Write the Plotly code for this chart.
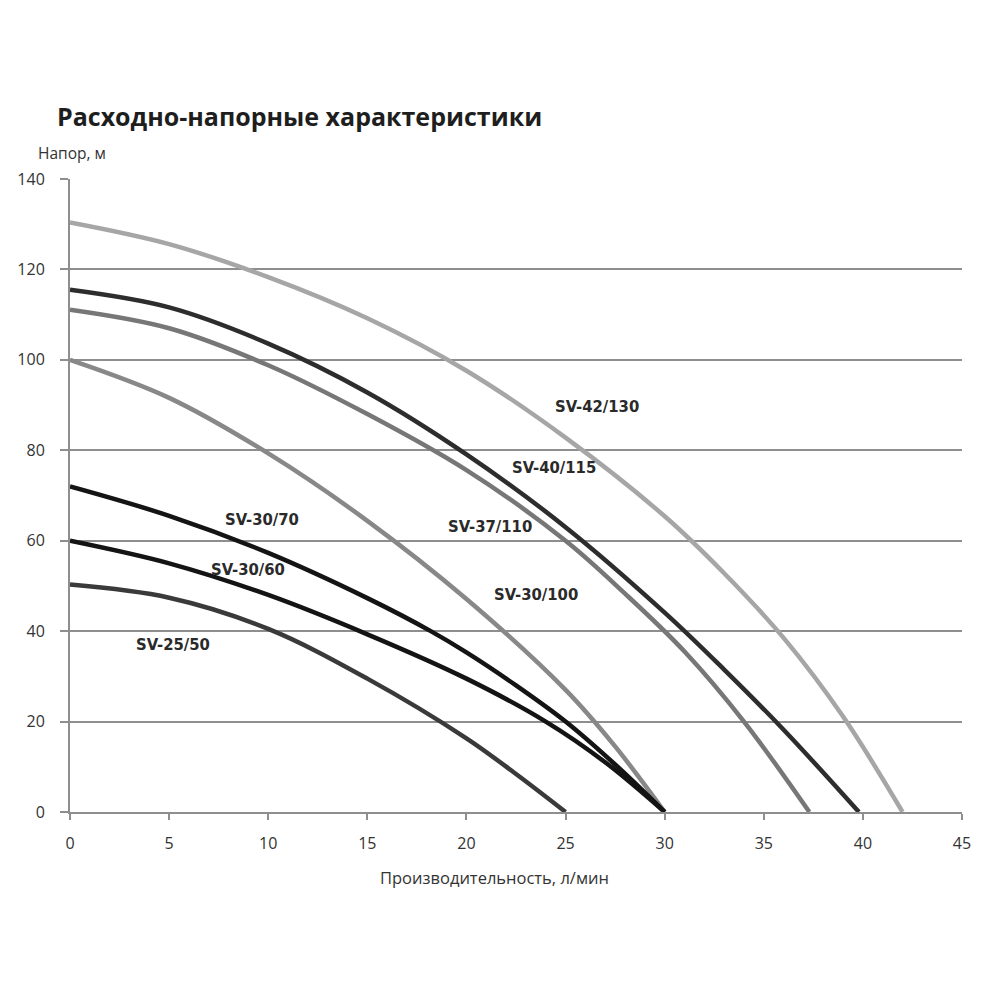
import plotly.graph_objects as go

# ---- data ----
series_names = ["SV-42/130", "SV-40/115", "SV-37/110", "SV-30/100", "SV-30/70", "SV-30/60", "SV-25/50"]

q_42_130 = [0, 5, 10, 15, 20, 25, 30, 33, 36, 39, 42]
h_42_130 = [130.4, 125.6, 118.3, 109.2, 97.6, 82.8, 65.4, 52.8, 38.5, 21.1, 0]

q_40_115 = [0, 5, 10, 15, 20, 25, 30, 33, 36, 39.8]
h_40_115 = [115.5, 111.6, 103.6, 92.8, 79.1, 63.0, 44.1, 31.5, 18.2, 0]

q_37_110 = [0, 5, 10, 15, 20, 25, 28, 31, 34, 37.3]
h_37_110 = [111.1, 107.0, 98.8, 88.0, 75.6, 60.0, 48.3, 35.5, 20, 0]

q_30_100 = [0, 5, 10, 15, 20, 25, 27.5, 30]
h_30_100 = [100, 91.6, 79.3, 64.4, 47.1, 27.0, 14.5, 0]

q_30_70 = [0, 5, 10, 15, 18.2, 20, 22.5, 25, 27.5, 30.0]
h_30_70 = [72, 65.5, 57.3, 47.3, 40, 35.3, 28, 20, 10.5, 0]

q_30_60 = [0, 5, 10, 15, 20, 24, 27, 30.0]
h_30_60 = [60, 55, 48, 39.3, 29.5, 20, 11, 0]

q_25_50 = [0, 5, 10, 15, 20, 22.5, 25.0]
h_25_50 = [50.3, 47.4, 40.5, 29.5, 16.3, 8.4, 0]

label_q = [26.6, 24.4, 21.2, 23.5, 9.7, 9.0, 5.2]
label_h = [89.7, 76.2, 63.1, 48.1, 64.7, 53.6, 37.0]

x_ticks = [0, 5, 10, 15, 20, 25, 30, 35, 40, 45]
y_ticks = [0, 20, 40, 60, 80, 100, 120, 140]

title_text = "Расходно-напорные характеристики"
y_title = "Напор, м"
x_title = "Производительность, л/мин"

# ---- styles ----
colors = ["#a6a6a6", "#2d2d2d", "#777777", "#888888", "#141414", "#141414", "#3a3a3a"]
all_q = [q_42_130, q_40_115, q_37_110, q_30_100, q_30_70, q_30_60, q_25_50]
all_h = [h_42_130, h_40_115, h_37_110, h_30_100, h_30_70, h_30_60, h_25_50]

fig = go.Figure()
for name, q, h, c in zip(series_names, all_q, all_h, colors):
    fig.add_trace(go.Scatter(x=q, y=h, mode="lines", name=name,
                             line=dict(color=c, width=4.5, shape="spline", smoothing=1.0)))

for name, lq, lh in zip(series_names, label_q, label_h):
    fig.add_annotation(x=lq, y=lh, text=name, showarrow=False,
                       font=dict(family="DejaVu Sans Condensed", size=16.5, color="#2a2a2a", weight="bold"),
                       xanchor="center", yanchor="middle")

fig.add_annotation(xref="paper", yref="paper", x=(36 - 70) / 892, y=(812 - 153) / 633,
                   text=y_title, showarrow=False, xanchor="left", yanchor="middle",
                   font=dict(family="Open Sans", size=15.5, color="#333333"))
fig.add_annotation(xref="paper", yref="paper", x=(494 - 70) / 892, y=(812 - 877) / 633,
                   text=x_title, showarrow=False, xanchor="center", yanchor="middle",
                   font=dict(family="Open Sans", size=16.5, color="#333333"))

axis_color = "#8e8e8e"
fig.update_layout(
    width=1000, height=1000,
    paper_bgcolor="white", plot_bgcolor="white",
    margin=dict(l=70, r=38, t=179, b=188),
    showlegend=False,
    title=dict(text=title_text, xref="container", yref="container", x=0.057, y=0.883,
               xanchor="left", yanchor="middle",
               font=dict(family="Open Sans", size=25, color="#1e1e1e", weight="bold")),
    xaxis=dict(range=[0, 45], tickvals=x_ticks, showgrid=False, zeroline=False,
               showline=True, linecolor=axis_color, linewidth=2,
               ticks="outside", ticklen=6, tickwidth=2, tickcolor=axis_color,
               ticklabelstandoff=10,
               tickfont=dict(family="Open Sans", size=16, color="#333333")),
    yaxis=dict(range=[0, 140], tickvals=y_ticks, showgrid=True, gridcolor=axis_color, gridwidth=2,
               zeroline=False, showline=True, linecolor=axis_color, linewidth=2,
               ticks="outside", ticklen=8, tickwidth=2, tickcolor=axis_color,
               ticklabelstandoff=12,
               tickfont=dict(family="Open Sans", size=16, color="#333333")),
)

fig.write_html("out.html")
